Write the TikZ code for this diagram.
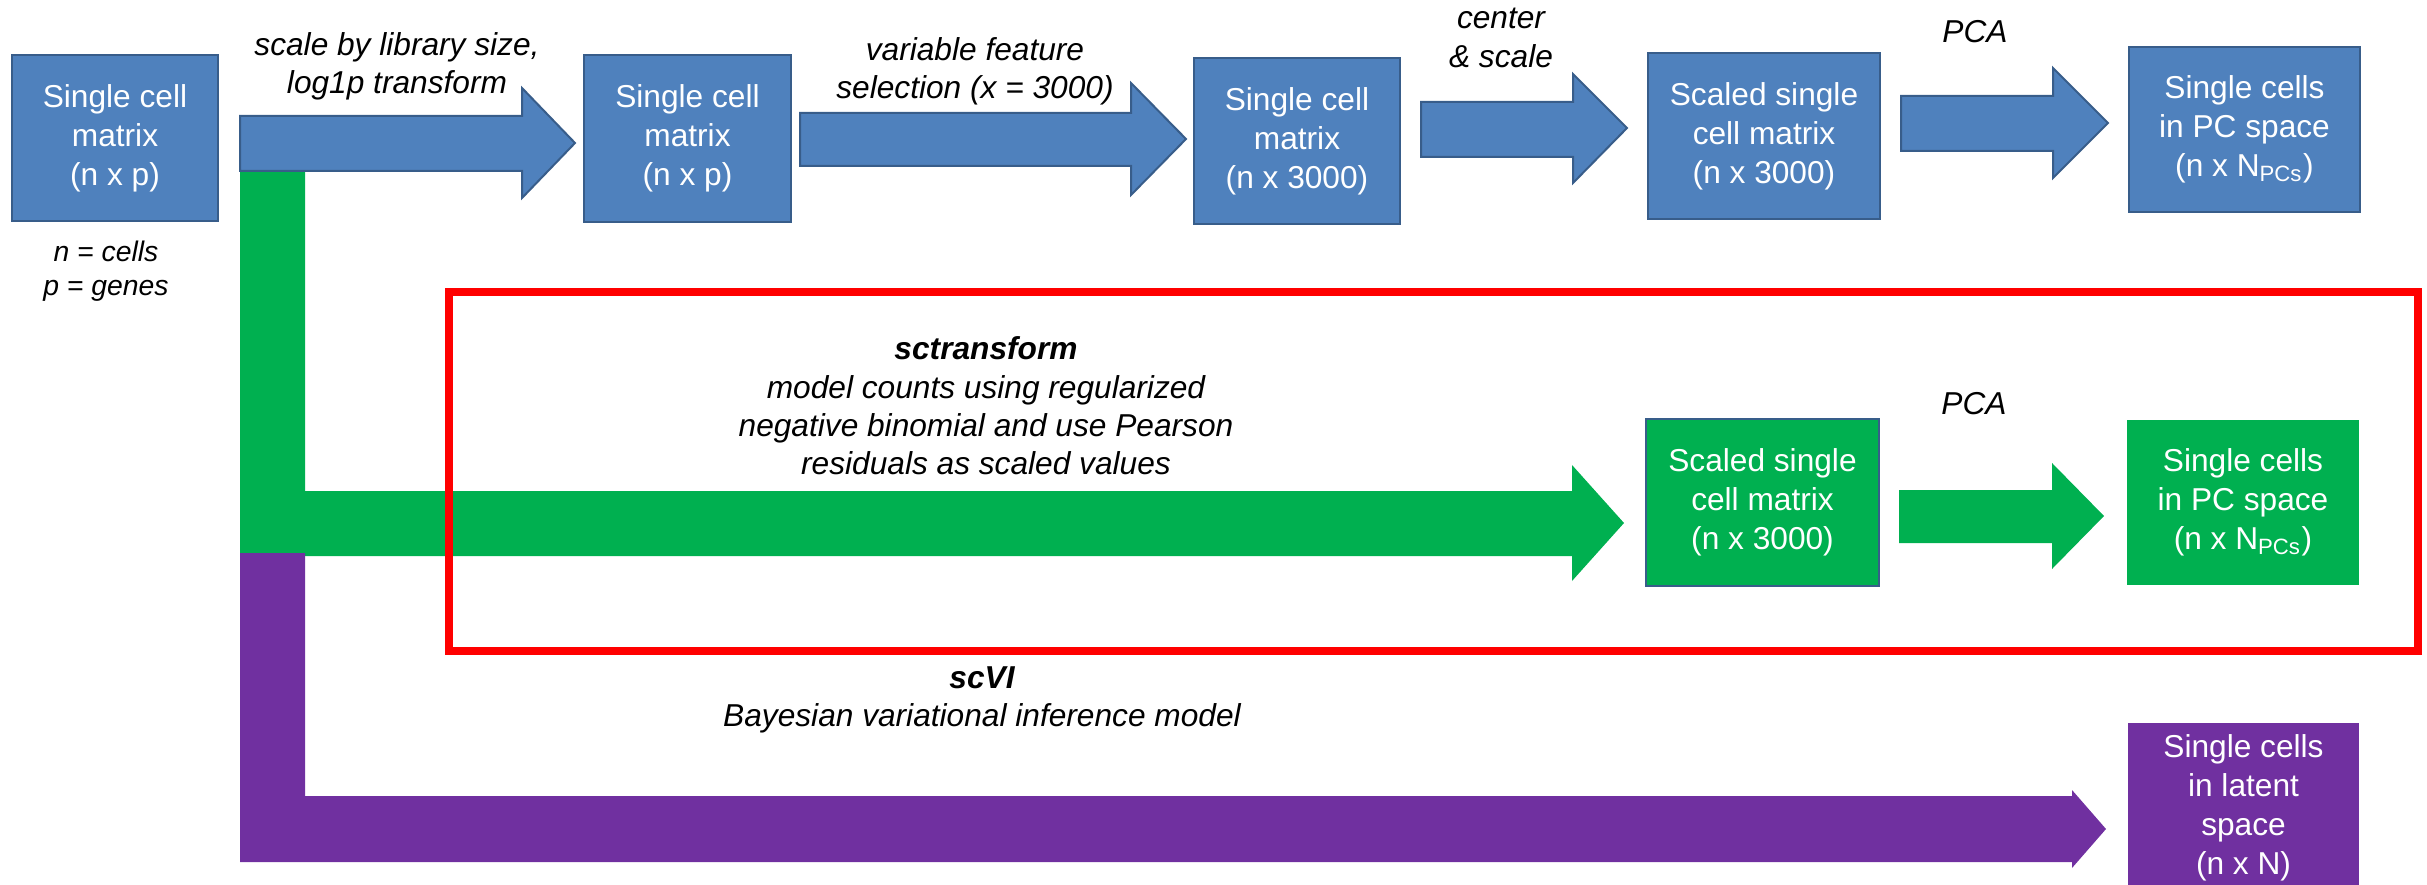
\documentclass[tikz,border=0pt]{standalone}
\usepackage{fontspec}
\setmainfont{Liberation Sans}
\definecolor{boxblue}{HTML}{4F81BD}
\definecolor{edgeblue}{HTML}{385D8A}
\definecolor{mygreen}{HTML}{00B050}
\definecolor{mypurple}{HTML}{7030A0}
\definecolor{myred}{HTML}{FF0000}
\tikzset{
  cellbox/.style 2 args={fill=boxblue, draw=edgeblue, line width=0.75pt, text=white,
    align=center, inner sep=0pt, minimum width=#1*0.3pt, minimum height=#2*0.3pt,
    font=\fontsize{9.5}{11.7}\selectfont},
  greenbox/.style 2 args={cellbox={#1}{#2}, fill=mygreen, draw=none},
  purplebox/.style 2 args={cellbox={#1}{#2}, fill=mypurple, draw=none},
  blockarrow/.style={fill=boxblue, draw=edgeblue, line width=0.6pt, line join=miter},
  lbl/.style={align=center, inner sep=0pt, font=\fontsize{9.5}{11.5}\selectfont\itshape},
  smalllbl/.style={align=center, inner sep=0pt, font=\fontsize{8.5}{10.2}\selectfont\itshape},
  hilite/.style={draw=myred, line width=2.4pt}
}
\begin{document}
\begin{tikzpicture}[x=0.3pt, y=-0.3pt]
\useasboundingbox (0,0) rectangle (2427,885);
\clip (0,0) rectangle (2427,885);

% green and purple branches
\fill[mygreen] (240,171) -- (305,171) -- (305,491) -- (1572,491) -- (1572,465)
  -- (1624,523) -- (1572,581) -- (1572,556) -- (240,556) -- cycle;
\fill[mypurple] (240,553) -- (305,553) -- (305,796) -- (2072,796) -- (2072,790)
  -- (2106,829) -- (2072,868) -- (2072,862) -- (240,862) -- cycle;

% blue block arrows
\draw[blockarrow] (240,116) -- (522,116) -- (522,88) -- (575,143) -- (522,198) -- (522,171) -- (240,171) -- cycle;
\draw[blockarrow] (800,113) -- (1131,113) -- (1131,83) -- (1186,139) -- (1131,195) -- (1131,166) -- (800,166) -- cycle;
\draw[blockarrow] (1421,102) -- (1573,102) -- (1573,74) -- (1627,128) -- (1573,183) -- (1573,157) -- (1421,157) -- cycle;
\draw[blockarrow] (1901,96) -- (2053,96) -- (2053,68) -- (2108,123) -- (2053,178) -- (2053,151) -- (1901,151) -- cycle;

% green block arrow
\fill[mygreen] (1899,490) -- (2052,490) -- (2052,463) -- (2104,516) -- (2052,569) -- (2052,543) -- (1899,543) -- cycle;

% boxes
\node[cellbox={206}{166}] (b1) at (115,138) {Single cell\\matrix\\(n x p)};
\node[cellbox={207}{167}] (b2) at (687.5,138.5) {Single cell\\matrix\\(n x p)};
\node[cellbox={206}{166}] (b3) at (1297,141) {Single cell\\matrix\\(n x 3000)};
\node[cellbox={232}{166}] (b4) at (1764,136) {Scaled single\\cell matrix\\(n x 3000)};
\node[cellbox={231}{165}] (b5) at (2244.5,129.5) {Single cells\\in PC space\\(n x N\textsubscript{PCs})};
\node[cellbox={233}{167}, fill=mygreen] (g1) at (1762.5,502.5) {Scaled single\\cell matrix\\(n x 3000)};
\node[greenbox={232}{165}] (g2) at (2243,502.5) {Single cells\\in PC space\\(n x N\textsubscript{PCs})};
\node[purplebox={231}{169}] (p1) at (2243.5,807.5) {Single cells\\in latent\\space\\(n x N)};

% red highlight
\draw[hilite] (449,292) rectangle (2418,651);

% labels
\node[lbl] (l1) at (397,66) {scale by library size,\\log1p transform};
\node[lbl] (l2) at (975,71) {variable feature\\selection (x = 3000)};
\node[lbl] (l3) at (1501,38) {center\\\& scale};
\node[lbl] (l4) at (1975,32) {PCA};
\node[smalllbl] (l5) at (106,271) {n = cells\\p = genes};
\node[lbl] (l6) at (986,406) {\bfseries sctransform\\model counts using regularized\\negative binomial and use Pearson\\residuals as scaled values};
\node[lbl] (l7) at (1974,404) {PCA};
\node[lbl] (l8) at (982,700) {\bfseries scVI\\Bayesian variational inference model};
\end{tikzpicture}
\end{document}
